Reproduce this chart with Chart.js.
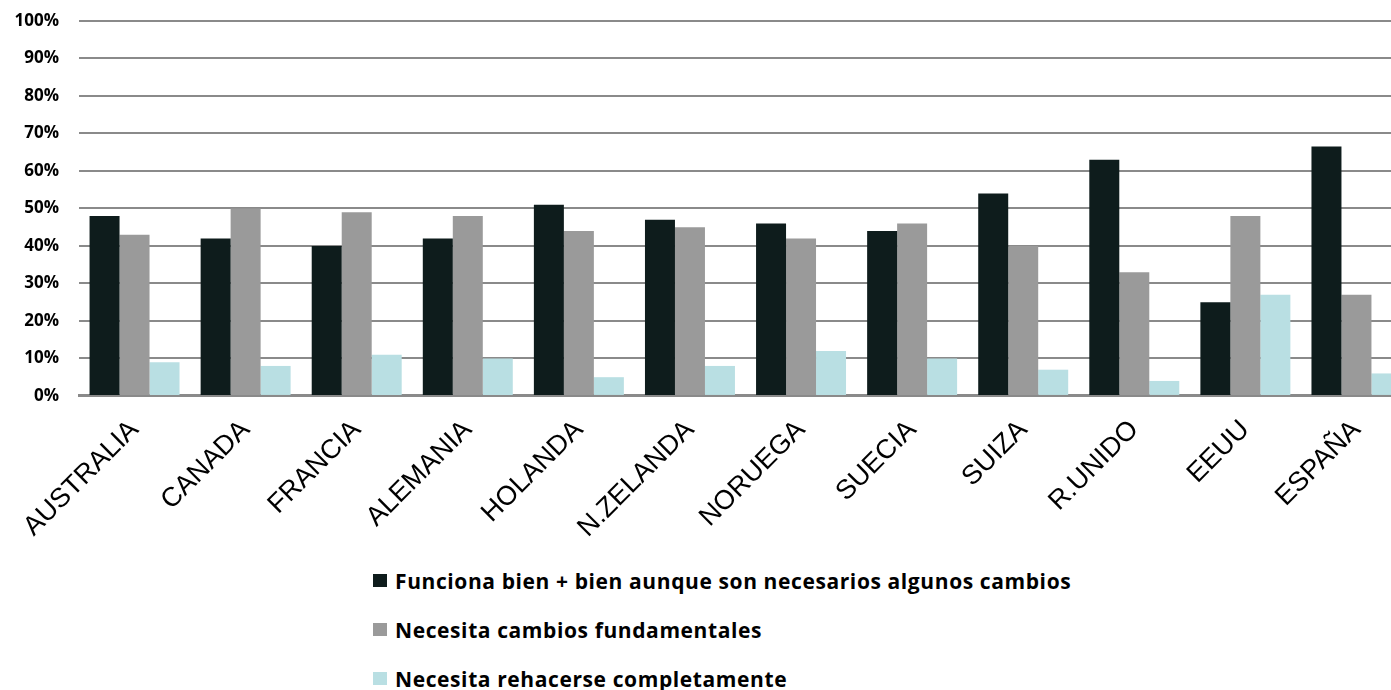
<!DOCTYPE html>
<html>
<head>
<meta charset="utf-8">
<script src="https://cdn.jsdelivr.net/npm/chart.js@4/dist/chart.umd.min.js"></script>
<style>
  html, body { margin: 0; padding: 0; background: #ffffff; }
  body { width: 1391px; height: 690px; position: relative; overflow: hidden; }
  #wrap { position: absolute; left: 0; top: 0; width: 1412px; height: 554px; }
  #legend { position: absolute; left: 373px; top: 556px; font-family: "Open Sans", Lato, sans-serif; font-weight: bold; font-size: 21px; letter-spacing: 0.6px; color: #000; }
  .item { height: 49px; display: flex; align-items: center; white-space: nowrap; }
  .box { width: 14px; height: 13px; margin-right: 8px; display: inline-block; }
</style>
</head>
<body>
<div id="wrap"><canvas id="c"></canvas></div>
<div id="legend"></div>
<script>
const categories = ["AUSTRALIA","CANADA","FRANCIA","ALEMANIA","HOLANDA","N.ZELANDA","NORUEGA","SUECIA","SUIZA","R.UNIDO","EEUU","ESPAÑA"];
const seriesNames = ["Funciona bien + bien aunque son necesarios algunos cambios","Necesita cambios fundamentales","Necesita rehacerse completamente"];
const funcionaBien = [48, 42, 40, 42, 51, 47, 46, 44, 54, 63, 25, 66.5];
const cambiosFundamentales = [43, 50, 49, 48, 44, 45, 42, 46, 40, 33, 48, 27];
const rehacerse = [9, 8, 11, 10, 5, 8, 12, 10, 7, 4, 27, 6];
const yTicks = [0, 10, 20, 30, 40, 50, 60, 70, 80, 90, 100];
const colors = ["#0e1c1c", "#9a9a9a", "#b9dfe3"];

const datasets = [funcionaBien, cambiosFundamentales, rehacerse].map((d, i) => ({
  label: seriesNames[i],
  data: d,
  backgroundColor: colors[i],
  borderWidth: 0,
  categoryPercentage: 0.81,
  barPercentage: 1.0
}));

const chart = new Chart(document.getElementById('c'), {
  type: 'bar',
  data: { labels: categories, datasets: datasets },
  options: {
    responsive: true,
    maintainAspectRatio: false,
    animation: false,
    layout: { padding: { top: 21, right: 0, left: 15, bottom: 0 } },
    plugins: { legend: { display: false }, tooltip: { enabled: false } },
    scales: {
      x: {
        grid: { display: false },
        border: { color: '#8a8a8a', width: 3 },
        afterFit: (axis) => { axis.paddingLeft = 0; axis.paddingRight = 0; },
        ticks: {
          minRotation: 45, maxRotation: 45,
          color: '#000',
          font: { family: '"Liberation Sans", Arial, sans-serif', size: 27 },
          padding: 10
        }
      },
      y: {
        min: 0, max: 100,
        afterBuildTicks: (axis) => { axis.ticks = yTicks.map(v => ({ value: v })); },
        afterFit: (axis) => { axis.width = 64; axis.paddingTop = 0; axis.paddingBottom = 0; },
        grid: { color: '#8a8a8a', lineWidth: 2, drawTicks: false },
        border: { display: false },
        ticks: {
          color: '#000',
          padding: 20,
          font: { family: '"Open Sans", Lato, sans-serif', size: 17, weight: 'bold' },
          callback: (v) => v + '%'
        }
      }
    }
  }
});

const legend = document.getElementById('legend');
chart.data.datasets.forEach(ds => {
  const row = document.createElement('div');
  row.className = 'item';
  const box = document.createElement('span');
  box.className = 'box';
  box.style.background = ds.backgroundColor;
  const txt = document.createElement('span');
  txt.textContent = ds.label;
  row.appendChild(box);
  row.appendChild(txt);
  legend.appendChild(row);
});
</script>
</body>
</html>
